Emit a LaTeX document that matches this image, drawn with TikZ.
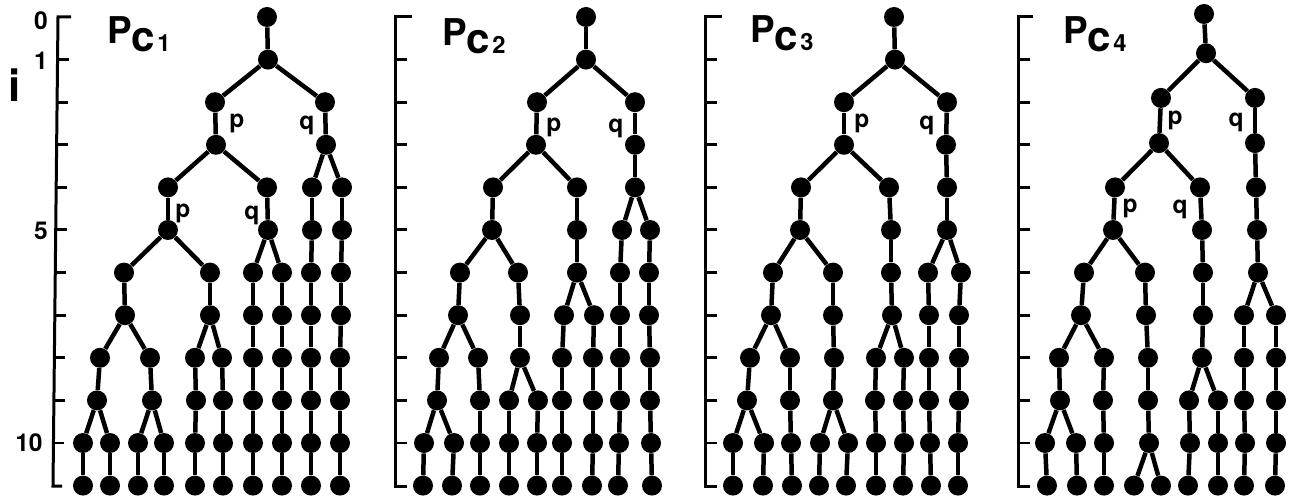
\documentclass[tikz,border=0pt]{standalone}
\usepackage{fontspec}
\setmainfont{TeX Gyre Heros}
% one dot per entry name/x/level/parent, joined to its parent
\newcommand{\grow}[1]{%
  \foreach \n/\x/\l/\p in {#1}{%
    \node[dot] (\n) at (\x,{17+42.6*\l}) {};
    \draw[edge] (\p) -- (\n);
  }}
\newcommand{\pctitle}[1]{P\raisebox{-0.16cm}{\fontsize{24}{24}\selectfont c\kern0.04cm\fontsize{13.5}{13.5}\selectfont #1}}
\begin{document}
\begin{tikzpicture}[x=0.02cm, y=-0.02cm,
  dot/.style={circle, fill=black, inner sep=0pt, minimum size=0.40cm},
  edge/.style={line width=0.09cm},
  axisline/.style={line width=0.06cm},
  lab/.style={font=\fontsize{14}{14}\selectfont\bfseries, inner sep=0pt},
  num/.style={font=\fontsize{14}{14}\selectfont\bfseries, inner sep=0pt},
  title/.style={font=\fontsize{21}{21}\selectfont\bfseries, inner sep=0pt, anchor=base west},
]
\useasboundingbox (0,0) rectangle (1294,499);

% ---------- level axes ----------
\draw[axisline] (71,17) -- (58,17) -- (53,486) -- (62,486);
\foreach \k in {1,...,10}
  \draw[axisline] ({58-5*42.6*\k/469},{17+42.6*\k}) -- ++(11,0);
\foreach \ax/\tp in {395/412, 705/722, 1018/1033}{
  \draw[axisline] (\tp,17) -- (\ax,17) -- (\ax,486) -- ({\ax+12},486);
  \foreach \k in {1,...,10}
    \draw[axisline] (\ax,{17+42.6*\k}) -- ++(12,0);
}
\node[num] (n0) at (41,21) {0};
\node[num] (n1) at (41,61) {1};
\node[num] (n5) at (41,231) {5};
\node[num] (n10) at (29,443) {10};
\node[font=\fontsize{25}{25}\selectfont\bfseries, inner sep=0pt] (ilab) at (15,85) {i};

% ---------- titles ----------
\node[title] (t1) at (107,44) {\pctitle{1}};
\node[title] (t2) at (442,46) {\pctitle{2}};
\node[title] (t3) at (750,43) {\pctitle{3}};
\node[title] (t4) at (1063,44) {\pctitle{4}};

% ---------- Pc1 ----------
\node[dot] (a0) at (267,17) {};
\grow{a1/268/1/a0, a2l/215/2/a1, a2r/325/2/a1, a3l/216/3/a2l, a3r/326/3/a2r,
  a4a/168/4/a3l, a4b/267/4/a3l, a4c/312/4/a3r, a4d/342/4/a3r,
  a5a/168/5/a4a, a5b/268/5/a4b, a5c/312/5/a4c, a5d/342/5/a4d,
  a6a/124/6/a5a, a6b/210/6/a5a, a6c/253/6/a5b, a6d/282/6/a5b, a6e/311/6/a5c, a6f/341/6/a5d,
  a7a/125/7/a6a, a7b/210/7/a6b, a7c/253/7/a6c, a7d/282/7/a6d, a7e/311/7/a6e, a7f/341/7/a6f,
  a8a/100/8/a7a, a8b/150/8/a7a, a8c/195/8/a7b, a8d/222/8/a7b, a8e/253/8/a7c, a8f/282/8/a7d, a8g/311/8/a7e, a8h/340/8/a7f,
  a9a/97/9/a8a, a9b/152/9/a8b, a9c/196/9/a8c, a9d/223/9/a8d, a9e/253/9/a8e, a9f/282/9/a8f, a9g/311/9/a8g, a9h/340/9/a8h,
  a10a/83/10/a9a, a10b/110/10/a9a, a10c/138/10/a9b, a10d/164/10/a9b, a10e/195/10/a9c, a10f/223/10/a9d, a10g/253/10/a9e, a10h/282/10/a9f, a10i/311/10/a9g, a10j/340/10/a9h,
  a11a/83/11/a10a, a11b/110/11/a10b, a11c/138/11/a10c, a11d/164/11/a10d, a11e/195/11/a10e, a11f/223/11/a10f, a11g/253/11/a10g, a11h/282/11/a10h, a11i/311/11/a10i, a11j/340/11/a10j}
\node[lab] (ap1) at (237,123) {p};
\node[lab] (aq1) at (307,125) {q};
\node[lab] (ap2) at (183,213) {p};
\node[lab] (aq2) at (252,215) {q};

% ---------- Pc2 ----------
\node[dot] (b0) at (586,17) {};
\grow{b1/586/1/b0, b2l/537/2/b1, b2r/635/2/b1, b3l/536/3/b2l, b3r/635/3/b2r,
  b4a/493/4/b3l, b4b/577/4/b3l, b4c/635/4/b3r,
  b5a/492/5/b4a, b5b/577/5/b4b, b5c/622/5/b4c, b5d/650/5/b4c,
  b6a/460/6/b5a, b6b/518/6/b5a, b6c/577/6/b5b, b6d/620/6/b5c, b6e/649/6/b5d,
  b7a/458/7/b6a, b7b/520/7/b6b, b7c/564/7/b6c, b7d/594/7/b6c, b7e/620/7/b6d, b7f/649/7/b6e,
  b8a/439/8/b7a, b8b/478/8/b7a, b8c/520/8/b7b, b8d/562/8/b7c, b8e/593/8/b7d, b8f/620/8/b7e, b8g/650/8/b7f,
  b9a/437/9/b8a, b9b/480/9/b8b, b9c/509/9/b8c, b9d/538/9/b8c, b9e/562/9/b8d, b9f/593/9/b8e, b9g/620/9/b8f, b9h/650/9/b8g,
  b10a/424/10/b9a, b10b/454/10/b9a, b10c/480/10/b9b, b10d/509/10/b9c, b10e/537/10/b9d, b10f/562/10/b9e, b10g/593/10/b9f, b10h/619/10/b9g, b10i/651/10/b9h,
  b11a/423/11/b10a, b11b/452/11/b10b, b11c/480/11/b10c, b11d/509/11/b10d, b11e/537/11/b10e, b11f/562/11/b10f, b11g/592/11/b10g, b11h/618/11/b10h, b11i/652/11/b10i}
\node[lab] (bp1) at (554,127) {p};
\node[lab] (bq1) at (616,128) {q};

% ---------- Pc3 ----------
\node[dot] (c0) at (894,17) {};
\grow{c1/895/1/c0, c2l/844/2/c1, c2r/947/2/c1, c3l/844/3/c2l, c3r/946/3/c2r,
  c4a/801/4/c3l, c4b/889/4/c3l, c4c/947/4/c3r,
  c5a/800/5/c4a, c5b/891/5/c4b, c5c/947/5/c4c,
  c6a/773/6/c5a, c6b/833/6/c5a, c6c/891/6/c5b, c6d/928/6/c5c, c6e/961/6/c5c,
  c7a/771/7/c6a, c7b/833/7/c6b, c7c/892/7/c6c, c7d/929/7/c6d, c7e/959/7/c6e,
  c8a/750/8/c7a, c8b/790/8/c7a, c8c/834/8/c7b, c8d/876/8/c7c, c8e/904/8/c7c, c8f/929/8/c7d, c8g/959/8/c7e,
  c9a/747/9/c8a, c9b/790/9/c8b, c9c/833/9/c8c, c9d/875/9/c8d, c9e/903/9/c8e, c9f/929/9/c8f, c9g/959/9/c8g,
  c10a/733/10/c9a, c10b/764/10/c9a, c10c/791/10/c9b, c10d/820/10/c9c, c10e/848/10/c9c, c10f/876/10/c9d, c10g/904/10/c9e, c10h/930/10/c9f, c10i/958/10/c9g,
  c11a/733/11/c10a, c11b/763/11/c10b, c11c/792/11/c10c, c11d/819/11/c10d, c11e/846/11/c10e, c11f/876/11/c10f, c11g/903/11/c10g, c11h/931/11/c10h, c11i/958/11/c10i}
\node[lab] (cp1) at (862,123) {p};
\node[lab] (cq1) at (927,125) {q};

% ---------- Pc4 ----------
\node[dot] (d0) at (1204,14) {};
\grow{d1/1206/0.85/d0, d2l/1161/1.9/d1, d2r/1255/1.9/d1, d3l/1159/2.96/d2l, d3r/1255/2.96/d2r,
  d4a/1115/4/d3l, d4b/1200/4/d3l, d4c/1256/4/d3r,
  d5a/1113/5/d4a, d5b/1202/5/d4b, d5c/1257/5/d4c,
  d6a/1084/6/d5a, d6b/1145/6/d5a, d6c/1203/6/d5b, d6d/1258/6/d5c,
  d7a/1081/7/d6a, d7b/1146/7/d6b, d7c/1203/7/d6c, d7d/1244/7/d6d, d7e/1276/7/d6d,
  d8a/1059/8/d7a, d8b/1104/8/d7a, d8c/1148/8/d7b, d8d/1202/8/d7c, d8e/1244/8/d7d, d8f/1276/8/d7e,
  d9a/1060/9/d8a, d9b/1103/9/d8b, d9c/1148/9/d8c, d9d/1189/9/d8d, d9e/1218/9/d8d, d9f/1244/9/d8e, d9g/1276/9/d8f,
  d10a/1045/10/d9a, d10b/1076/10/d9a, d10c/1104/10/d9b, d10d/1149/10/d9c, d10e/1190/10/d9d, d10f/1218/10/d9e, d10g/1245/10/d9f, d10h/1276/10/d9g,
  d11a/1047/11/d10a, d11b/1077/11/d10b, d11c/1104/11/d10c, d11d/1134/11/d10d, d11e/1161/11/d10d, d11f/1188/11/d10e, d11g/1218/11/d10f, d11h/1244/11/d10g, d11i/1275/11/d10h}
\node[lab] (dp1) at (1175,120) {p};
\node[lab] (dq1) at (1236,122) {q};
\node[lab] (dp2) at (1130,208) {p};
\node[lab] (dq2) at (1180,209) {q};
\end{tikzpicture}
\end{document}
